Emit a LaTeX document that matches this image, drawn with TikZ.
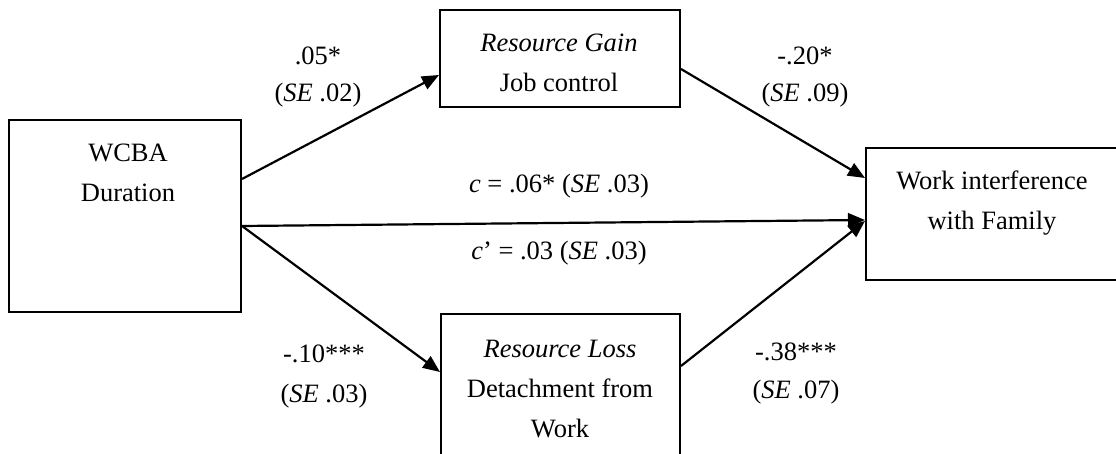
\documentclass[tikz,border=0pt]{standalone}
\usepackage{fontspec}
\setmainfont{Liberation Serif}
\usetikzlibrary{arrows.meta}
\tikzset{
  box/.style={rectangle, draw=black, line width=2pt, inner sep=0pt},
  txt/.style={font=\fontsize{26.5pt}{40pt}\selectfont, align=center, inner sep=0pt, anchor=base},
  arr/.style={line width=2.2pt, -{Triangle[length=17pt, width=14pt]}}
}

\begin{document}
\begin{tikzpicture}
\useasboundingbox (0pt, 0pt) rectangle (1116pt, -454pt);
\clip (0pt, 0pt) rectangle (1116pt, -454pt);
\node (wcba) [box, minimum width=232pt, minimum height=192pt] at (125.0pt, -216.0pt) {};
\node (gain) [box, minimum width=240pt, minimum height=97pt] at (560.0pt, -58.5pt) {};
\node (loss) [box, minimum width=239pt, minimum height=170pt] at (560.5pt, -399.0pt) {};
\node (wif) [box, minimum width=254pt, minimum height=132pt] at (993.0pt, -214.0pt) {};
\node (wcbatxt) [txt] at (128.0pt, -202.0pt) {WCBA\\Duration};
\node (gaintxt) [txt] at (559.0pt, -92.0pt) {\textit{Resource Gain}\\Job control};
\node (losstxt) [txt] at (560.0pt, -437.0pt) {\textit{Resource Loss}\\Detachment from\\Work};
\node (wiftxt) [txt] at (992.0pt, -230.0pt) {Work interference\\with Family};
\node (a1) [txt] at (318.0pt, -102.0pt) {.05*\\[-3pt](\textit{SE} .02)};
\node (b1) [txt] at (805.0pt, -102.0pt) {-.20*\\[-3pt](\textit{SE} .09)};
\node (c) [txt] at (559.0pt, -193.0pt) {\textit{c} = .06* (\textit{SE} .03)};
\node (cp) [txt] at (559.0pt, -260.0pt) {\textit{c}’ = .03 (\textit{SE} .03)};
\node (a2) [txt] at (324.0pt, -402.0pt) {-.10***\\(\textit{SE} .03)};
\node (b2) [txt] at (796.0pt, -398.0pt) {-.38***\\[-2pt](\textit{SE} .07)};
\draw [arr] ([yshift=-60pt]wcba.north east) -- ([yshift=-66pt]gain.north west);
\draw [arr] ([yshift=-60pt]gain.north east) -- ([yshift=-31pt]wif.north west);
\draw [arr] ([yshift=-107pt]wcba.north east) -- ([yshift=-73pt]wif.north west);
\draw [arr] ([yshift=-107pt]wcba.north east) -- ([yshift=-59pt]loss.north west);
\draw [arr] ([yshift=-53pt]loss.north east) -- ([yshift=-74pt]wif.north west);
\end{tikzpicture}
\end{document}
